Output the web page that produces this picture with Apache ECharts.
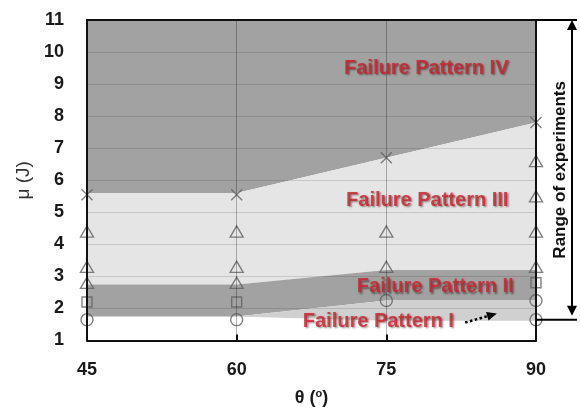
<!DOCTYPE html>
<html>
<head>
<meta charset="utf-8">
<script src="https://cdn.jsdelivr.net/npm/echarts@6/dist/echarts.min.js"></script>
<style>
  html, body { margin: 0; padding: 0; background: #fff; }
  #chart { width: 580px; height: 412px; }
</style>
</head>
<body>
<div id="chart"></div>
<script>
// Impact angle (θ) positions and energy axis range
const thetas = [45, 60, 75, 90];
const muMin = 1, muMax = 11;

// Region boundaries (μ) at each θ
const patternIBottom = [1.75, 1.75, 1.62, 1.62];
const patternITop    = [1.75, 1.75, 2.25, 2.25];
const patternIITop   = [2.75, 2.75, 3.2, 3.2];
const patternIIITop  = [5.6, 5.6, 6.7, 7.8];
const plotTop        = [11, 11, 11, 11];

// Test points [θ, μ] grouped by marker
const circlePoints   = [[45, 1.65], [60, 1.65], [75, 2.25], [90, 2.25], [90, 1.65]];
const squarePoints   = [[45, 2.2], [60, 2.2], [90, 2.8]];
const trianglePoints = [[45, 2.8], [45, 3.3], [45, 4.4], [60, 2.8], [60, 3.3], [60, 4.4],
                        [75, 3.3], [75, 4.4], [90, 3.3], [90, 4.4], [90, 5.5], [90, 6.6]];
const crossPoints    = [[45, 5.55], [60, 5.55], [75, 6.7], [90, 7.8]];

// Region captions and where they sit [θ, μ]
const captionNames     = ['Failure Pattern IV', 'Failure Pattern III', 'Failure Pattern II', 'Failure Pattern I'];
const captionPositions = [[79.0, 9.5], [79.1, 5.37], [79.9, 2.67], [74.2, 1.6]];
const pointerArrow     = [[82.9, 1.56], [85.6, 1.8]];

// Range of experiments bracket (μ)
const rangeMin = 1.65, rangeMax = 11;

const bands = [
  { lower: patternIIITop,  upper: plotTop,       color: '#a2a2a2' },
  { lower: patternIITop,   upper: patternIIITop, color: '#e5e5e5' },
  { lower: patternITop,    upper: patternIITop,  color: '#a2a2a2' },
  { lower: patternIBottom, upper: patternITop,   color: '#d0d0d0' }
];

const FONT = 'Liberation Sans, Arial, sans-serif';
const markerColor = '#616161';

const chart = echarts.init(document.getElementById('chart'), null, { renderer: 'canvas' });

function openMarker(name, points, symbol, size) {
  return {
    name: name,
    type: 'scatter',
    silent: true,
    z: 3,
    symbol: symbol,
    symbolSize: size,
    data: points,
    itemStyle: { color: 'none', borderColor: markerColor, borderWidth: 1.4 }
  };
}

chart.setOption({
  animation: false,
  backgroundColor: '#ffffff',
  grid: { left: 87, right: 44, top: 20, bottom: 69 },
  xAxis: [{
    type: 'value',
    min: 45, max: 90, interval: 15,
    z: 5,
    name: '{b|θ (}{s|o}{b|)}',
    nameLocation: 'middle',
    nameGap: 48,
    nameTextStyle: {
      rich: {
        b: { fontFamily: FONT, fontWeight: 'bold', fontSize: 18, color: '#1a1a1a' },
        s: { fontFamily: FONT, fontWeight: 'bold', fontSize: 11, color: '#1a1a1a', verticalAlign: 'top', padding: [0, 0, 8, 0] }
      }
    },
    axisLine: { show: true, lineStyle: { color: '#111', width: 2 } },
    axisTick: { show: true, inside: true, length: 6, lineStyle: { color: '#111', width: 2 } },
    axisLabel: { margin: 21, fontFamily: FONT, fontWeight: 'bold', fontSize: 18, color: '#1a1a1a' },
    splitLine: { show: true, lineStyle: { color: 'rgba(0,0,0,0.28)', width: 1 } }
  }, {
    type: 'value', position: 'top', min: 45, max: 90, interval: 15, z: 5,
    axisLine: { show: true, lineStyle: { color: '#111', width: 2 } },
    axisTick: { show: false }, axisLabel: { show: false }, splitLine: { show: false }
  }],
  yAxis: [{
    type: 'value',
    min: muMin, max: muMax, interval: 1,
    z: 5,
    name: 'μ (J)',
    nameLocation: 'middle',
    nameGap: 50,
    nameTextStyle: { fontFamily: FONT, fontSize: 19, color: '#333' },
    axisLine: { show: true, lineStyle: { color: '#111', width: 2 } },
    axisTick: { show: false },
    axisLabel: { margin: 23, fontFamily: FONT, fontWeight: 'bold', fontSize: 18, color: '#1a1a1a' },
    splitLine: { show: true, lineStyle: { color: 'rgba(0,0,0,0.13)', width: 1 } }
  }, {
    type: 'value', position: 'right', min: muMin, max: muMax, interval: 1, z: 5,
    axisLine: { show: true, lineStyle: { color: '#111', width: 2 } },
    axisTick: { show: false }, axisLabel: { show: false }, splitLine: { show: false }
  }],
  series: [
    {
      name: 'regions',
      type: 'custom',
      silent: true,
      z: 1,
      clip: true,
      data: bands.map((b, i) => [thetas[0], b.lower[0], i]),
      encode: { x: 0, y: 1 },
      renderItem: function (params, api) {
        const band = bands[params.dataIndex];
        const pts = [];
        thetas.forEach((t, i) => pts.push(api.coord([t, band.upper[i]])));
        for (let i = thetas.length - 1; i >= 0; i--) pts.push(api.coord([thetas[i], band.lower[i]]));
        return { type: 'polygon', shape: { points: pts }, style: { fill: band.color, stroke: null } };
      }
    },
    openMarker('circles', circlePoints, 'circle', 12),
    openMarker('squares', squarePoints, 'rect', 10),
    openMarker('triangles', trianglePoints, 'triangle', [13, 11]),
    openMarker('crosses', crossPoints, 'path://M0,0L10,10M10,0L0,10', 11),
    {
      name: 'captions',
      type: 'scatter',
      silent: true,
      z: 6,
      symbolSize: 1,
      itemStyle: { color: 'transparent' },
      data: captionNames.map((n, i) => ({ name: n, value: captionPositions[i] })),
      label: {
        show: true,
        position: 'inside',
        formatter: '{b}',
        fontFamily: FONT,
        fontWeight: 'bold',
        fontSize: 20,
        color: '#cc1f29',
        textShadowColor: 'rgba(40,0,0,0.6)',
        textShadowBlur: 2,
        textShadowOffsetX: 1.5,
        textShadowOffsetY: 1.5
      },
      markLine: {
        silent: true,
        symbol: ['none', 'triangle'],
        symbolSize: [9, 10],
        label: { show: false },
        lineStyle: { color: '#000', type: 'dotted', width: 2.5 },
        data: [[{ coord: pointerArrow[0] }, { coord: pointerArrow[1] }]]
      }
    }
  ]
});

// Bracket on the right marking the tested energy range
const pTop = chart.convertToPixel({ xAxisIndex: 0, yAxisIndex: 0 }, [90, rangeMax]);
const pBot = chart.convertToPixel({ xAxisIndex: 0, yAxisIndex: 0 }, [90, rangeMin]);
const xEdge = pTop[0];
const xArrow = xEdge + 36;
const xEnd = xEdge + 41;
const midY = (pTop[1] + pBot[1]) / 2;

chart.setOption({
  graphic: [
    { type: 'line', z: 10, shape: { x1: xEdge, y1: pTop[1], x2: xEnd, y2: pTop[1] }, style: { stroke: '#000', lineWidth: 2 } },
    { type: 'line', z: 10, shape: { x1: xEdge, y1: pBot[1], x2: xEnd, y2: pBot[1] }, style: { stroke: '#000', lineWidth: 2 } },
    { type: 'line', z: 10, shape: { x1: xArrow, y1: pTop[1] + 6, x2: xArrow, y2: pBot[1] - 8 }, style: { stroke: '#000', lineWidth: 2 } },
    { type: 'polygon', z: 10, shape: { points: [[xArrow, pTop[1]], [xArrow - 5, pTop[1] + 10], [xArrow + 5, pTop[1] + 10]] }, style: { fill: '#000' } },
    { type: 'polygon', z: 10, shape: { points: [[xArrow, pBot[1] - 4], [xArrow - 5, pBot[1] - 14], [xArrow + 5, pBot[1] - 14]] }, style: { fill: '#000' } },
    {
      type: 'text', z: 10,
      x: xEdge + 24, y: midY,
      rotation: Math.PI / 2,
      style: {
        text: 'Range of experiments',
        fontFamily: FONT, fontWeight: 'bold', fontSize: 17, fill: '#111',
        textAlign: 'center', textVerticalAlign: 'middle'
      }
    }
  ]
});
</script>
</body>
</html>
